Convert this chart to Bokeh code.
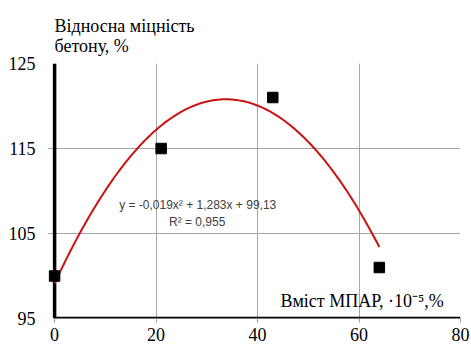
from bokeh.plotting import figure
from bokeh.models import Label, FixedTicker, Range1d
from bokeh.embed import file_html
from bokeh.resources import INLINE
import numpy as np

# measured points: admixture content vs. relative strength
content = [0, 21, 43, 64]
strength = [100, 115, 121, 101]

# second-order trend coefficients
a2, a1, a0 = -0.019, 1.283, 99.13
r2 = 0.955

x_ticks = [0, 20, 40, 60, 80]
y_ticks = [95, 105, 115, 125]

SERIF = "Liberation Serif"
SANS = "Liberation Sans"
X_PAD = 1.4  # room left of zero so the first marker is not cut by the frame

p = figure(width=471, height=351, output_backend="svg", toolbar_location=None,
           x_range=Range1d(x_ticks[0] - X_PAD, x_ticks[-1]),
           y_range=Range1d(y_ticks[0], y_ticks[-1]),
           min_border_left=47, min_border_right=11, min_border_top=63, min_border_bottom=33)
p.outline_line_color = None
p.background_fill_color = "white"

# title in two lines above the plot area
p.title.text = "Відносна міцність\nбетону, %"
p.title.text_font = SERIF
p.title.text_font_size = "18px"
p.title.text_font_style = "normal"
p.title.text_color = "black"
p.title.align = "left"
p.title.offset = 7
p.title.standoff = 16

for ax in (p.xaxis[0], p.yaxis[0]):
    ax.axis_line_color = None
    ax.major_tick_in = 0
    ax.minor_tick_line_color = None
    ax.major_label_text_font = SERIF
    ax.major_label_text_font_size = "18px"
    ax.major_label_text_color = "black"
p.xaxis.major_tick_out = 4
p.xaxis.major_tick_line_color = "#999999"
p.yaxis.major_tick_line_color = None
p.xaxis.ticker = FixedTicker(ticks=x_ticks)
p.yaxis.ticker = FixedTicker(ticks=y_ticks)
p.xaxis.major_label_standoff = 5
p.yaxis.major_label_standoff = 6

p.xgrid.ticker = FixedTicker(ticks=x_ticks)
p.ygrid.ticker = FixedTicker(ticks=y_ticks)
p.grid.grid_line_color = "#a6a6a6"
p.grid.grid_line_width = 1

# heavy axis lines along x = 0 and y = 95
p.segment(x0=[x_ticks[0]], y0=[y_ticks[0]], x1=[x_ticks[-1]], y1=[y_ticks[0]],
          line_color="black", line_width=3.5)
p.segment(x0=[x_ticks[0]], y0=[y_ticks[0]], x1=[x_ticks[0]], y1=[y_ticks[-1]],
          line_color="black", line_width=3.5)

# trend curve over the measured span
xs = np.linspace(min(content), max(content), 200)
ys = a2 * xs ** 2 + a1 * xs + a0
p.line(xs, ys, line_color="#cc1111", line_width=2)

p.scatter(content, strength, marker="square", size=10.5, color="black")

p.add_layout(Label(x=44.5, y=97.1, text="Вміст МПАР, ·10⁻⁵,%",
                   text_font=SERIF, text_font_size="18px", text_color="black",
                   text_align="left", text_baseline="middle"))
p.add_layout(Label(x=28.2, y=108.3, text="y = -0,019x² + 1,283x + 99,13",
                   text_font=SANS, text_font_size="12px", text_color="#404040",
                   text_align="center", text_baseline="middle"))
p.add_layout(Label(x=28.1, y=106.3, text=f"R² = {str(r2).replace('.', ',')}",
                   text_font=SANS, text_font_size="12px", text_color="#404040",
                   text_align="center", text_baseline="middle"))

open("out.html", "w").write(file_html(p, INLINE))
